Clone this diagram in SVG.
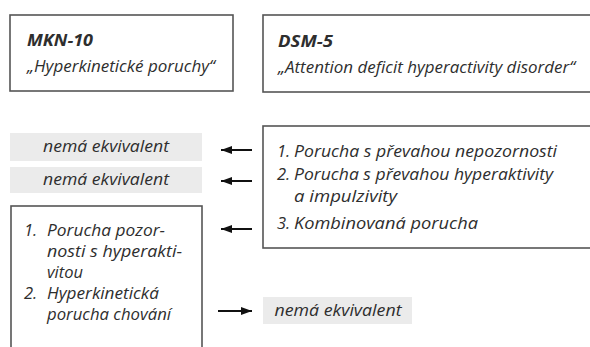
<svg xmlns="http://www.w3.org/2000/svg" width="590" height="347" viewBox="0 0 590 347">
<defs>
<style>
.box{fill:#fff;stroke:#555;stroke-width:1.6}
.gray{fill:#ebebeb;stroke:none}
text{font-family:"Open Sans","Liberation Sans",sans-serif;font-style:italic;font-size:16.5px;fill:#2e2e2e}
.b{font-weight:bold;font-size:16.5px}
.c{text-anchor:middle}
.arr{stroke:#111;stroke-width:2;fill:none}
</style>
<marker id="ah" markerWidth="12" markerHeight="10" refX="11" refY="5" orient="auto" markerUnits="userSpaceOnUse">
<path d="M0,1 L11,5 L0,9 Z" fill="#111"/>
</marker>
</defs>
<rect width="590" height="347" fill="#fff"/>
<g id="mkn10">
<rect class="box" x="10" y="15" width="223" height="76"/>
<text class="b" x="27" y="46" textLength="66" lengthAdjust="spacingAndGlyphs">MKN-10</text>
<text x="27" y="72" textLength="188" lengthAdjust="spacingAndGlyphs">„Hyperkinetické poruchy“</text>
</g>
<g id="dsm5">
<rect class="box" x="263" y="15" width="340" height="77"/>
<text class="b" x="278" y="47" textLength="55" lengthAdjust="spacingAndGlyphs">DSM-5</text>
<text x="278" y="73" textLength="297" lengthAdjust="spacingAndGlyphs">„Attention deficit hyperactivity disorder“</text>
</g>
<g id="gray1">
<rect class="gray" x="10" y="133" width="192" height="28"/>
<text class="c" x="106" y="152" textLength="126" lengthAdjust="spacingAndGlyphs">nemá ekvivalent</text>
</g>
<g id="gray2">
<rect class="gray" x="10" y="167" width="192" height="26"/>
<text class="c" x="106" y="185" textLength="126" lengthAdjust="spacingAndGlyphs">nemá ekvivalent</text>
</g>
<g id="dsmlist">
<rect class="box" x="263" y="126" width="340" height="122"/>
<text x="277" y="157">1.</text>
<text x="294" y="157" textLength="263" lengthAdjust="spacingAndGlyphs">Porucha s převahou nepozornosti</text>
<text x="277" y="180">2.</text>
<text x="294" y="180" textLength="259" lengthAdjust="spacingAndGlyphs">Porucha s převahou hyperaktivity</text>
<text x="294" y="202" textLength="103" lengthAdjust="spacingAndGlyphs">a impulzivity</text>
<text x="277" y="229">3.</text>
<text x="294" y="229" textLength="184" lengthAdjust="spacingAndGlyphs">Kombinovaná porucha</text>
</g>
<g id="mknlist">
<rect class="box" x="11" y="206" width="191" height="160"/>
<text x="24" y="236">1.</text>
<text x="47" y="236" textLength="118" lengthAdjust="spacingAndGlyphs">Porucha pozor-</text>
<text x="47" y="257" textLength="135" lengthAdjust="spacingAndGlyphs">nosti s hyperakti-</text>
<text x="47" y="278" textLength="36" lengthAdjust="spacingAndGlyphs">vitou</text>
<text x="24" y="299">2.</text>
<text x="47" y="299" textLength="112" lengthAdjust="spacingAndGlyphs">Hyperkinetická</text>
<text x="47" y="320" textLength="124" lengthAdjust="spacingAndGlyphs">porucha chování</text>
</g>
<g id="gray3">
<rect class="gray" x="263" y="297" width="149" height="27"/>
<text class="c" x="338" y="316" textLength="127" lengthAdjust="spacingAndGlyphs">nemá ekvivalent</text>
</g>
<g id="connectors">
<line class="arr" x1="252" y1="150" x2="221" y2="150" marker-end="url(#ah)"/>
<line class="arr" x1="252" y1="181" x2="221" y2="181" marker-end="url(#ah)"/>
<line class="arr" x1="252" y1="229" x2="221" y2="229" marker-end="url(#ah)"/>
<line class="arr" x1="218" y1="311" x2="252" y2="311" marker-end="url(#ah)"/>
</g>
</svg>
